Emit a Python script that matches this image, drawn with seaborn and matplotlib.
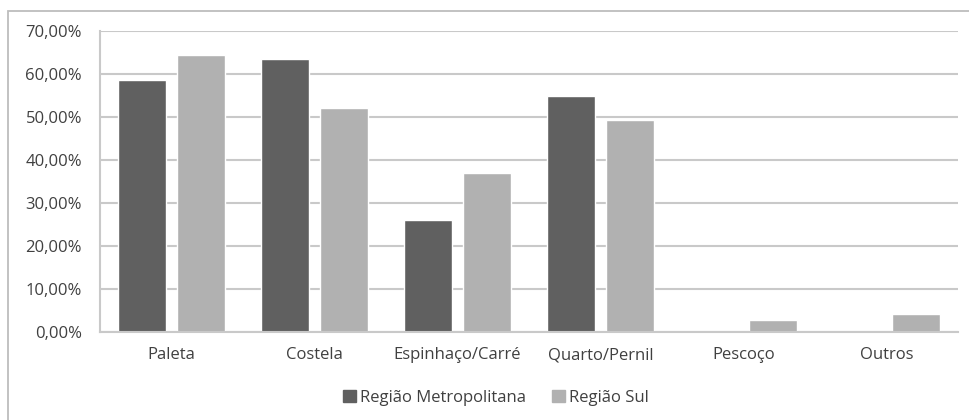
import matplotlib
matplotlib.use("Agg")
import matplotlib.pyplot as plt
import matplotlib.patches as mpatches
import seaborn as sns
import pandas as pd
from matplotlib.ticker import FuncFormatter

categories = ["Paleta", "Costela", "Espinhaço/Carré", "Quarto/Pernil", "Pescoço", "Outros"]
series_names = ["Região Metropolitana", "Região Sul"]
metropolitana = [58.7, 63.6, 26.1, 55.0, 0.0, 0.0]
sul = [64.4, 52.0, 36.9, 49.4, 2.7, 4.1]
y_ticks = [0, 10, 20, 30, 40, 50, 60, 70]

df = pd.DataFrame({
    "corte": categories * 2,
    "regiao": [series_names[0]] * len(categories) + [series_names[1]] * len(categories),
    "valor": metropolitana + sul,
})

sns.set_theme(style="white")
plt.rcParams["font.family"] = ["Open Sans", "DejaVu Sans"]

text_color = "#404040"
grid_color = "#c9c9c9"
palette = {series_names[0]: "#606060", series_names[1]: "#b1b1b1"}
fs = 12

fig = plt.figure(figsize=(9.7, 4.2), dpi=100)
ax = fig.add_axes([100 / 970, 1 - 332 / 420, 858 / 970, 301 / 420])

sns.barplot(data=df, x="corte", y="valor", hue="regiao", palette=palette,
            width=0.83, gap=0.2, ax=ax, legend=False, saturation=1)

ax.set_ylim(0, 70)
ax.set_xlim(-0.5, len(categories) - 0.5)
ax.set_yticks(y_ticks)
ax.yaxis.set_major_formatter(FuncFormatter(lambda v, _: f"{v:.2f}%".replace(".", ",")))
ax.grid(axis="y", color=grid_color, linewidth=1.5)
ax.grid(axis="x", visible=False)
ax.set_axisbelow(True)
for side in ["top", "right"]:
    ax.spines[side].set_visible(False)
for side in ["left", "bottom"]:
    ax.spines[side].set_color(grid_color)
    ax.spines[side].set_linewidth(1.5)
ax.tick_params(axis="both", length=0, labelsize=fs, colors=text_color)
ax.tick_params(axis="x", pad=11)
ax.tick_params(axis="y", pad=13)
ax.set_xlabel("")
ax.set_ylabel("")

handles = [mpatches.Patch(color=palette[n], label=n) for n in series_names]
fig.legend(handles=handles, loc="center", bbox_to_anchor=(496 / 970, 1 - 398 / 420),
           ncol=2, frameon=False, fontsize=fs, handlelength=0.75, handleheight=0.75,
           handletextpad=0.25, columnspacing=1.6, labelcolor=text_color)

# outer chart frame
fig.add_artist(mpatches.Rectangle((8 / 970, -0.05), 1.1, 1 - 11 / 420 + 0.05,
                                  transform=fig.transFigure, fill=False,
                                  edgecolor="#bdbdbd", linewidth=1.3))

fig.savefig("out.png", dpi=100, facecolor="white")
